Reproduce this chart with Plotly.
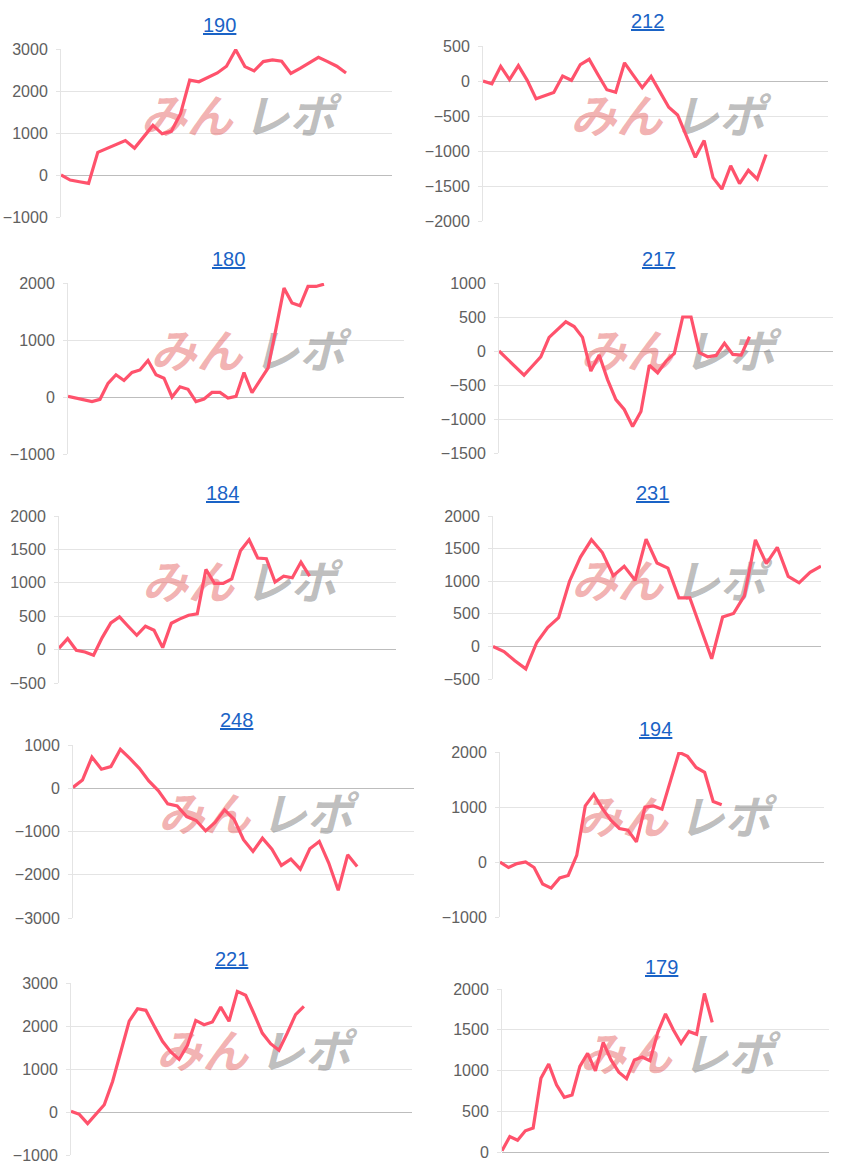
import plotly.graph_objects as go

# ---------------- data ----------------
titles = ["190", "212", "180", "217", "184", "231", "248", "194", "221", "179"]

values_190 = [0, -120, -160, -200, 540, 640, 730, 820, 640, 910, 1180, 980, 1040, 1460,
              2260, 2220, 2320, 2430, 2590, 2980, 2580, 2480, 2700, 2740, 2710, 2420,
              2540, 2660, 2800, 2700, 2590, 2430]
values_212 = [0, -40, 210, 20, 220, 10, -255, -205, -165, 70, 10, 235, 310, 90, -125, -160,
              260, 80, -95, 65, -145, -375, -485, -800, -1090, -850, -1380, -1545, -1210,
              -1465, -1275, -1400, -1050]
values_180 = [10, -20, -45, -80, -40, 240, 390, 290, 430, 475, 640, 390, 330, 0, 180, 135,
              -80, -35, 80, 80, -20, 10, 430, 75, 290, 505, 1200, 1910, 1650, 1600, 1940,
              1940, 1980]
values_217 = [0, -115, -235, -355, -220, -85, 200, 320, 430, 360, 200, -295, -60, -420, -715,
              -860, -1110, -890, -210, -320, -150, -35, 500, 500, -25, -85, -65, 115, -50,
              -60, 210]
values_184 = [20, 165, -10, -35, -85, 180, 400, 490, 350, 215, 350, 290, 30, 395, 460, 515,
              535, 1200, 990, 990, 1060, 1480, 1645, 1370, 1360, 1010, 1100, 1075, 1310, 1100]
values_231 = [0, -80, -220, -345, 60, 290, 440, 1000, 1370, 1635, 1440, 1085, 1230, 1015,
              1645, 1280, 1200, 745, 745, 275, -190, 450, 505, 780, 1635, 1270, 1520, 1075,
              975, 1135, 1230]
values_248 = [20, 190, 720, 440, 500, 900, 690, 460, 170, -55, -360, -410, -655, -745, -985,
              -790, -500, -715, -1190, -1460, -1155, -1410, -1785, -1640, -1870, -1400,
              -1230, -1730, -2360, -1540, -1810]
values_194 = [0, -100, -30, 0, -100, -400, -475, -290, -245, 120, 1020, 1230, 975, 760, 610,
              580, 365, 995, 1020, 960, 1480, 1995, 1920, 1720, 1630, 1100, 1040]
values_221 = [15, -55, -270, -60, 170, 710, 1435, 2115, 2400, 2365, 2000, 1645, 1395, 1225,
              1550, 2130, 2030, 2095, 2440, 2110, 2805, 2715, 2285, 1835, 1590, 1435, 1835,
              2265, 2455]
values_179 = [15, 190, 145, 260, 295, 905, 1080, 825, 670, 700, 1050, 1210, 995, 1345, 1130,
              980, 900, 1130, 1165, 1120, 1465, 1695, 1500, 1335, 1480, 1445, 1945, 1590]

series = [values_190, values_212, values_180, values_217, values_184,
          values_231, values_248, values_194, values_221, values_179]

# number of x categories on each chart's axis
axis_lengths = [37, 40, 43, 41, 40, 31, 37, 39, 42, 43]

# y-axis scale per chart
y_min = [-1000, -2000, -1000, -1500, -500, -500, -3000, -1000, -1000, 0]
y_max = [3000, 500, 2000, 1000, 2000, 2000, 1000, 2000, 3000, 2000]
y_step = [1000, 500, 1000, 500, 500, 500, 1000, 1000, 1000, 500]

# ---------------- layout (pixels) ----------------
W, H = 851, 1174
# left, right, top, bottom of plot area; title centre x, y
boxes = [
    (61, 392, 49, 217, 219, 25),
    (483, 828, 46, 221, 647, 21),
    (68, 404, 283, 454, 228, 259),
    (499, 833, 283, 453, 658, 259),
    (59, 396, 516, 683, 222, 493),
    (493, 821, 516, 679, 652, 493),
    (73, 414, 745, 918, 236, 720),
    (500, 824, 752, 917, 655, 729),
    (71, 412, 983, 1155, 232, 959),
    (502, 829, 989, 1152, 661, 967),
]

LINE = "rgb(255,82,108)"
GRID = "#e4e4e4"
ZERO = "#bdbdbd"
TICK = "#606060"

watermark = ('<b><i><span style="color:rgba(225,70,70,0.42)">みん</span> '
             '<span style="color:rgba(110,110,110,0.45)">レポ</span></i></b>')

fig = go.Figure()
annotations = []
layout = {}
for k in range(10):
    L, R, T, B, tx, ty = boxes[k]
    xname = "x" if k == 0 else f"x{k+1}"
    yname = "y" if k == 0 else f"y{k+1}"
    xkey = "xaxis" if k == 0 else f"xaxis{k+1}"
    ykey = "yaxis" if k == 0 else f"yaxis{k+1}"
    n = axis_lengths[k]
    layout[xkey] = dict(domain=[L / W, R / W], range=[0, n - 1], anchor=yname,
                        showgrid=False, zeroline=False, showticklabels=False,
                        showline=False, ticks="", fixedrange=True, automargin=False)
    layout[ykey] = dict(domain=[1 - B / H, 1 - T / H], range=[y_min[k], y_max[k]],
                        tick0=y_min[k], dtick=y_step[k], anchor=xname,
                        showgrid=True, gridcolor=GRID, gridwidth=1,
                        zeroline=True, zerolinecolor=ZERO, zerolinewidth=1,
                        showline=True, linecolor=GRID, linewidth=1,
                        ticks="outside", ticklen=4, tickcolor=GRID,
                        ticklabelstandoff=5, automargin=False,
                        tickfont=dict(family="Liberation Sans, Arial", size=16, color=TICK),
                        fixedrange=True)
    # watermark (behind the line)
    fig.add_trace(go.Scatter(
        x=[(n - 1) * 0.535], y=[y_min[k] + (y_max[k] - y_min[k]) * 0.57],
        mode="text", text=[watermark], textposition="middle center",
        textfont=dict(family="Noto Sans CJK JP", size=46),
        hoverinfo="skip", showlegend=False, xaxis=xname, yaxis=yname))
    vals = series[k]
    fig.add_trace(go.Scatter(
        x=list(range(len(vals))), y=vals, mode="lines",
        line=dict(color=LINE, width=3.2), showlegend=False,
        xaxis=xname, yaxis=yname))
    annotations.append(dict(
        x=tx / W, y=1 - ty / H, xref="paper", yref="paper",
        text=f"<u>{titles[k]}</u>", showarrow=False,
        xanchor="center", yanchor="middle",
        font=dict(family="Liberation Sans, Arial", size=20, color="#1a63c6")))

fig.update_layout(width=W, height=H, margin=dict(l=0, r=0, t=0, b=0, autoexpand=False),
                  paper_bgcolor="white", plot_bgcolor="white",
                  annotations=annotations, **layout)
fig.write_html("out.html")
